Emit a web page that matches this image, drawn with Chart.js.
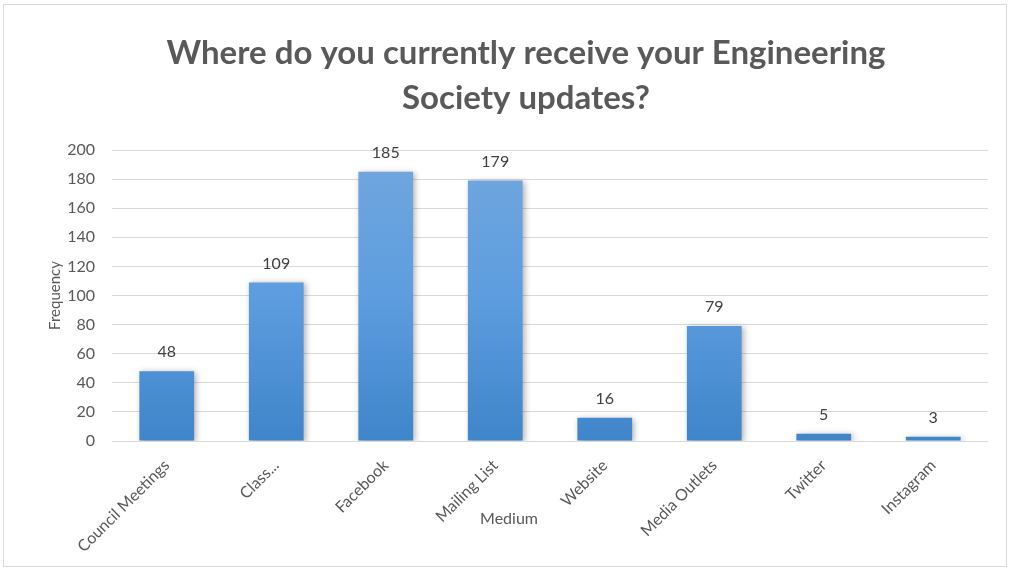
<!DOCTYPE html>
<html>
<head>
<meta charset="utf-8">
<script src="https://cdn.jsdelivr.net/npm/chart.js@4/dist/chart.umd.min.js"></script>
<style>
  body { margin: 0; background: #fff; }
  #wrap { position: absolute; left: 3px; top: 4px; width: 1002px; height: 561px; border: 1px solid #d9d9d9; }
</style>
</head>
<body>
<div id="wrap"><canvas id="myChart" width="1002" height="561"></canvas></div>
<script>
// data
const categories = ['Council Meetings', 'Class...', 'Facebook', 'Mailing List', 'Website', 'Media Outlets', 'Twitter', 'Instagram'];
const frequency = [48, 109, 185, 179, 16, 79, 5, 3];
const titleLines = ['Where do you currently receive your Engineering', 'Society updates?'];
const xTitle = 'Medium';
const yTitle = 'Frequency';

const FONT = 'Lato, "Open Sans", sans-serif';

// bar gradient, light on top, darker at the bottom
function barFill(context) {
    const chart = context.chart;
    const area = chart.chartArea;
    if (!area) return '#5b9bd5';
    const g = chart.ctx.createLinearGradient(0, area.top, 0, area.bottom);
    g.addColorStop(0, '#72a7dd');
    g.addColorStop(0.5, '#5d9ddf');
    g.addColorStop(1, '#3f85c9');
    return g;
}

// soft shadow under the bars
const barShadow = {
    id: 'barShadow',
    beforeDatasetsDraw(chart) {
        const ctx = chart.ctx;
        ctx.save();
        ctx.shadowColor = 'rgba(0,0,0,0.3)';
        ctx.shadowBlur = 6;
        ctx.shadowOffsetX = 2;
        ctx.shadowOffsetY = 1;
    },
    afterDatasetsDraw(chart) {
        chart.ctx.restore();
    }
};

// value labels above bars + the titles, placed like the excel chart
const textLayer = {
    id: 'textLayer',
    afterDraw(chart) {
        const ctx = chart.ctx;
        const meta = chart.getDatasetMeta(0);
        ctx.save();
        ctx.textAlign = 'center';
        ctx.textBaseline = 'middle';

        ctx.font = '16px ' + FONT;
        ctx.fillStyle = '#404040';
        meta.data.forEach(function(bar, i) {
            ctx.fillText(String(frequency[i]), bar.x, bar.y - 19);
        });

        // main title (sits a bit right of centre in the original)
        ctx.font = 'bold 33px ' + FONT;
        ctx.fillStyle = '#595959';
        ctx.fillText(titleLines[0], 522, 48);
        ctx.fillText(titleLines[1], 522, 93);

        // x axis title
        ctx.font = '16px ' + FONT;
        ctx.fillText(xTitle, 505, 514);
        ctx.restore();
    }
};

let config = {
    type: 'bar',
    data: {
        labels: categories,
        datasets: [{
            label: yTitle,
            data: frequency,
            backgroundColor: barFill,
            borderWidth: 0,
            barPercentage: 0.5,
            categoryPercentage: 1.0
        }]
    },
    options: {
        responsive: false,
        animation: false,
        layout: { padding: { left: 0, right: 18, top: 145, bottom: 0 } },
        plugins: {
            legend: { display: false },
            tooltip: { enabled: false },
            title: { display: false }
        },
        scales: {
            x: {
                grid: { display: false },
                border: { display: false },
                ticks: {
                    color: '#595959',
                    font: { family: FONT, size: 16 },
                    minRotation: 45,
                    maxRotation: 45,
                    padding: 7
                },
                afterFit: function(scale) { scale.height = 125; }
            },
            y: {
                min: 0,
                max: 200,
                ticks: {
                    stepSize: 20,
                    color: '#595959',
                    font: { family: FONT, size: 16 },
                    padding: 17
                },
                grid: { color: '#d9d9d9', lineWidth: 1, drawTicks: false },
                border: { display: false },
                title: {
                    display: true,
                    text: yTitle,
                    color: '#595959',
                    font: { family: FONT, size: 15 },
                    padding: { top: 42, bottom: 0 }
                },
                afterFit: function(scale) { scale.width = 108; }
            }
        }
    },
    plugins: [barShadow, textLayer]
};

let myChart = new Chart(document.getElementById('myChart'), config);
</script>
</body>
</html>
